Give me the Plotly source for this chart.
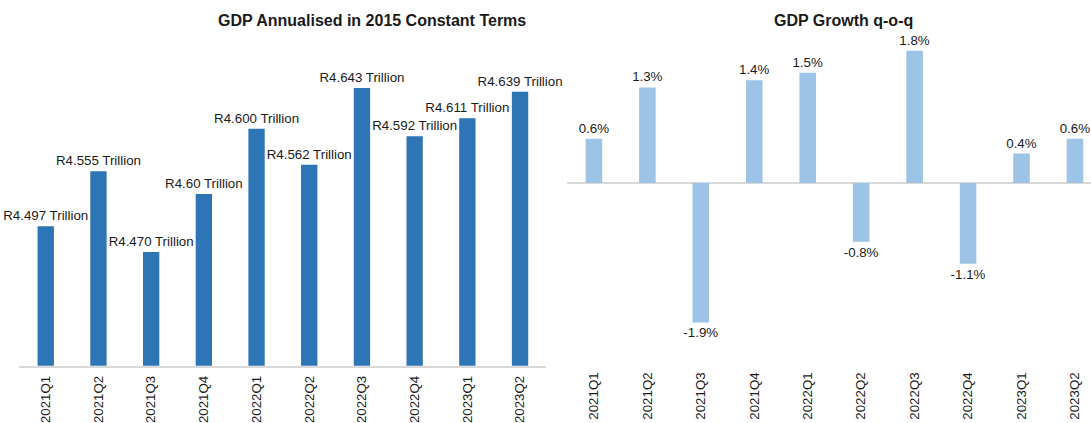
import plotly.graph_objects as go

# Quarterly categories shared by both panels
quarters = ["2021Q1", "2021Q2", "2021Q3", "2021Q4", "2022Q1",
            "2022Q2", "2022Q3", "2022Q4", "2023Q1", "2023Q2"]

# Annualised GDP, 2015 constant prices (R trillion)
gdp_trillion = [4.497, 4.555, 4.470, 4.531, 4.600,
                4.562, 4.643, 4.592, 4.611, 4.639]
gdp_labels = ["R4.497 Trillion", "R4.555 Trillion", "R4.470 Trillion", "R4.60 Trillion",
              "R4.600 Trillion", "R4.562 Trillion", "R4.643 Trillion", "R4.592 Trillion",
              "R4.611 Trillion", "R4.639 Trillion"]

# Quarter-on-quarter growth (%)
growth_pct = [0.6, 1.3, -1.9, 1.4, 1.5, -0.8, 1.8, -1.1, 0.4, 0.6]
growth_labels = [f"{v:.1f}%" for v in growth_pct]

FONT = "Liberation Sans, Arial, sans-serif"
TEXT = "#1a1a1a"
GRID = "#d9d9d9"

W, H = 1091, 423
plot_top, plot_bottom = 33.9, 365.7
y_dom = [(H - plot_bottom) / H, (H - plot_top) / H]

fig = go.Figure()

fig.add_trace(go.Bar(
    x=quarters, y=gdp_trillion, text=gdp_labels,
    textposition="outside", cliponaxis=False, constraintext="none",
    textfont=dict(family=FONT, size=13.3, color=TEXT),
    marker=dict(color="#2e75b6", line=dict(width=0)),
    xaxis="x", yaxis="y", hoverinfo="skip",
))

fig.add_trace(go.Bar(
    x=quarters, y=growth_pct, text=growth_labels,
    textposition="outside", cliponaxis=False, constraintext="none",
    textfont=dict(family=FONT, size=13.3, color=TEXT),
    marker=dict(color="#9dc3e6", line=dict(width=0)),
    xaxis="x2", yaxis="y2", hoverinfo="skip",
))

axis_font = dict(family=FONT, size=13.3, color=TEXT)

fig.update_layout(
    width=W, height=H,
    margin=dict(l=0, r=0, t=0, b=0),
    paper_bgcolor="white", plot_bgcolor="white",
    showlegend=False,
    bargap=0.69,
    uniformtext=dict(mode=False),
    font=dict(family=FONT, color=TEXT),
    xaxis=dict(
        domain=[19.4 / W, 546.4 / W], anchor="y",
        type="category", range=[-0.5, 9.5],
        showline=True, linecolor=GRID, linewidth=1.5,
        showgrid=False, zeroline=False, ticks="",
        tickangle=-90, tickfont=axis_font, ticklabelstandoff=3,
        automargin=False,
    ),
    yaxis=dict(
        domain=y_dom, anchor="x",
        range=[4.35, 4.70], visible=False, automargin=False,
    ),
    xaxis2=dict(
        domain=[567.2 / W, 1.0], anchor="y2",
        type="category", range=[-0.5, 9.3],
        showline=False, showgrid=False, zeroline=False, ticks="",
        tickangle=-90, tickfont=axis_font, ticklabelstandoff=3,
        automargin=False,
    ),
    yaxis2=dict(
        domain=y_dom, anchor="x2",
        range=[-2.49, 2.03],
        showticklabels=False, showgrid=False, showline=False, ticks="",
        zeroline=True, zerolinecolor=GRID, zerolinewidth=1.5,
        automargin=False,
    ),
    annotations=[
        dict(text="<b>GDP Annualised in 2015 Constant Terms</b>",
             x=372 / W, y=(H - 20.5) / H, xref="paper", yref="paper",
             xanchor="center", yanchor="middle", showarrow=False,
             font=dict(family=FONT, size=16, color=TEXT)),
        dict(text="<b>GDP Growth q-o-q</b>",
             x=843.5 / W, y=(H - 20.5) / H, xref="paper", yref="paper",
             xanchor="center", yanchor="middle", showarrow=False,
             font=dict(family=FONT, size=16, color=TEXT)),
    ],
)

fig.write_html("out.html")
